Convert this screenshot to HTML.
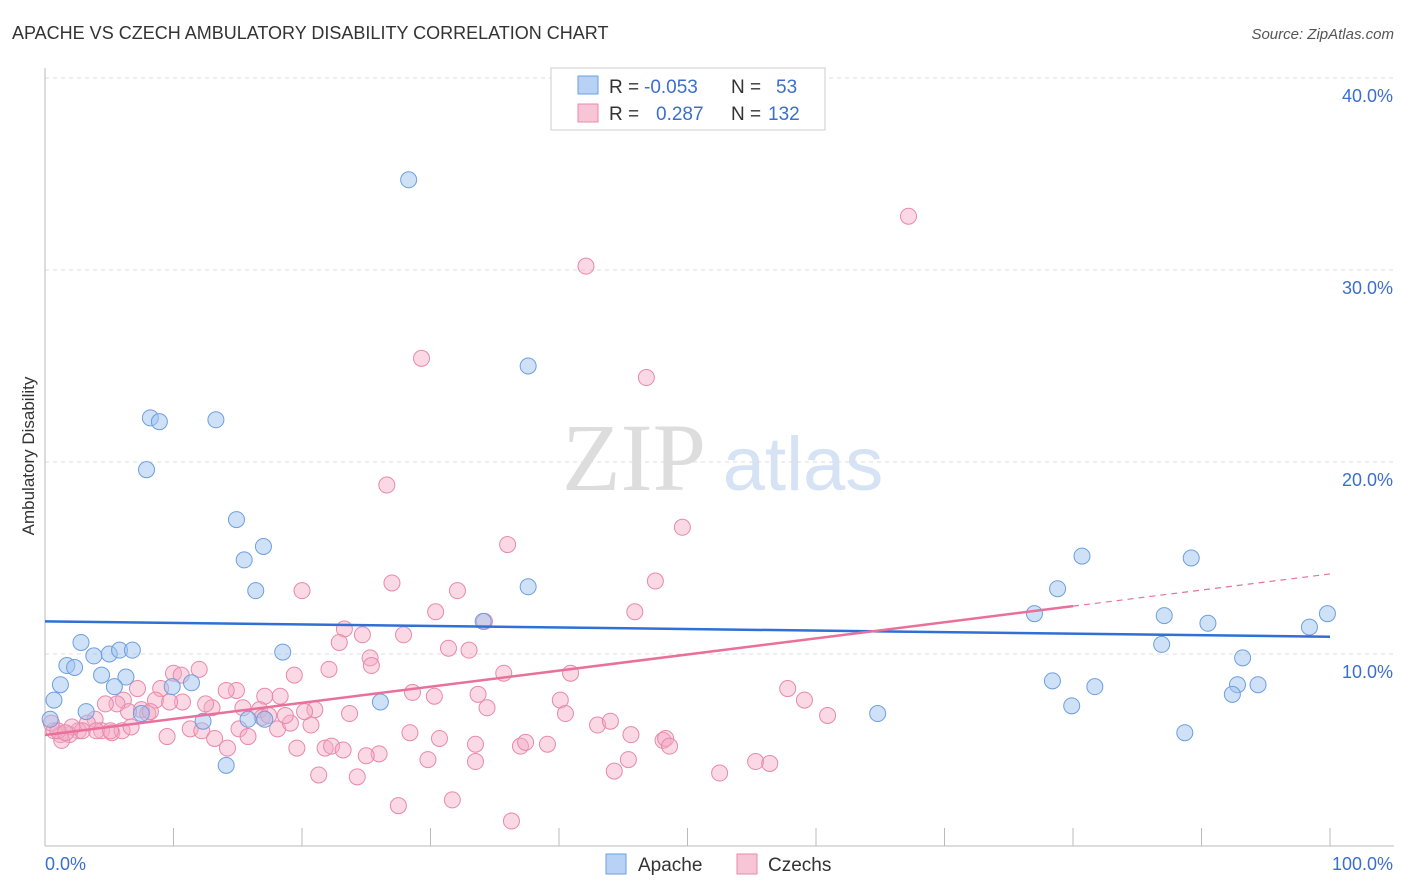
<!DOCTYPE html>
<html><head><meta charset="utf-8"><style>
body{margin:0;background:#fff;font-family:"Liberation Sans",sans-serif;}
svg{display:block}
</style></head><body>
<svg id="chart" width="1406" height="892">
<text x="12" y="39" font-size="18" fill="#333">APACHE VS CZECH AMBULATORY DISABILITY CORRELATION CHART</text>
<text x="1394" y="39" font-size="15" fill="#555" font-style="italic" text-anchor="end">Source: ZipAtlas.com</text>
<text x="34" y="456" font-size="17" fill="#333" text-anchor="middle" transform="rotate(-90 34 456)">Ambulatory Disability</text>
<g>
<text x="634" y="490" font-size="96" fill="#ddd" text-anchor="middle" font-family="Liberation Serif,serif">ZIP</text>
<text x="803" y="490" font-size="76" fill="#d5e3f5" text-anchor="middle">atlas</text>
</g>
<g id="grid"></g><g id="axes"></g><g id="pts"></g><g id="lines"></g>
<g>
<rect x="551" y="68" width="274" height="62" fill="#fff" stroke="#ccc"/>
<rect x="578" y="76" width="20" height="18" fill="#b7d2f4" stroke="#6d9fe0"/>
<rect x="578" y="104" width="20" height="18" fill="#f8c5d6" stroke="#e889a8"/>
<text y="93" font-size="19" fill="#333"><tspan x="609">R =</tspan><tspan x="644" fill="#3a6fd0">-0.053</tspan><tspan x="731">N =</tspan><tspan x="776" fill="#3a6fd0">53</tspan></text>
<text y="120" font-size="19" fill="#333"><tspan x="609">R =</tspan><tspan x="656" fill="#3a6fd0">0.287</tspan><tspan x="731">N =</tspan><tspan x="768" fill="#3a6fd0">132</tspan></text>
</g>
<g>
<rect x="606" y="854" width="20" height="20" fill="#b7d2f4" stroke="#6d9fe0"/>
<text x="638" y="871" font-size="19" fill="#333">Apache</text>
<rect x="737" y="854" width="20" height="20" fill="#f8c5d6" stroke="#e889a8"/>
<text x="768" y="871" font-size="19" fill="#333">Czechs</text>
</g>
</svg>
<script>
const yTicks=[10,20,30,40];
const yTickLabels=["10.0%","20.0%","30.0%","40.0%"];
const xTickLabels=["0.0%","100.0%"];
const apacheX=[28.3,37.6,8.2,8.9,13.3,7.9,14.9,17.0,15.5,16.4,37.6,34.1,2.8,5.0,3.8,5.8,6.8,1.7,2.3,18.5,1.2,4.4,6.3,5.4,9.9,11.4,0.7,3.2,7.5,12.3,15.8,17.1,26.1,14.1,64.8,80.7,78.8,77.0,87.1,89.2,90.5,86.9,93.2,78.4,81.7,79.9,92.8,94.4,92.4,88.7,99.8,98.4,0.4];
const apacheY=[34.7,25.0,22.3,22.1,22.2,19.6,17.0,15.6,14.9,13.3,13.5,11.7,10.6,10.0,9.9,10.2,10.2,9.4,9.3,10.1,8.4,8.9,8.8,8.3,8.3,8.5,7.6,7.0,6.9,6.5,6.6,6.6,7.5,4.2,6.9,15.1,13.4,12.1,12.0,15.0,11.6,10.5,9.8,8.6,8.3,7.3,8.4,8.4,7.9,5.9,12.1,11.4,6.6];
const czechX=[67.2,42.1,29.3,46.8,26.6,49.6,36.0,27.0,20.0,32.1,47.5,30.4,45.9,34.2,23.3,24.7,27.9,31.4,33.0,22.9,25.3,25.4,22.1,35.7,40.9,10.0,12.0,10.6,19.4,28.6,30.3,40.1,33.7,34.4,40.5,23.7,21.0,18.3,17.1,16.7,14.9,14.1,7.2,6.1,9.0,8.6,7.5,8.0,6.5,5.6,4.7,3.9,3.3,2.6,1.9,1.2,0.7,0.5,1.3,4.4,5.2,6.0,6.7,9.5,11.3,12.2,13.2,14.2,15.1,15.8,16.9,18.1,19.1,19.6,20.7,21.8,22.3,23.2,26.0,25.0,28.4,30.7,33.5,33.5,37.0,37.4,39.1,43.0,44.0,45.6,48.1,48.3,48.6,44.3,45.4,52.5,55.3,56.4,57.8,59.1,60.9,21.3,24.3,27.5,31.7,36.3,29.8,15.4,13.0,10.7,8.2,12.5,17.4,18.7,20.2,9.7,4.0,5.1,2.9,2.1,1.0,1.6];
const czechY=[32.8,30.2,25.4,24.4,18.8,16.6,15.7,13.7,13.3,13.3,13.8,12.2,12.2,11.7,11.3,11.0,11.0,10.3,10.2,10.6,9.8,9.4,9.2,9.0,9.0,9.0,9.2,8.9,8.9,8.0,7.8,7.6,7.9,7.2,6.9,6.9,7.1,7.8,7.8,7.1,8.1,8.1,8.2,7.6,8.2,7.6,7.1,6.9,7.0,7.4,7.4,6.6,6.4,6.0,5.8,5.8,6.0,6.4,5.5,6.0,5.9,6.0,6.2,5.7,6.1,6.0,5.6,5.1,6.1,5.7,6.7,6.1,6.4,5.1,6.3,5.1,5.2,5.0,4.8,4.7,5.9,5.6,5.3,4.4,5.2,5.4,5.3,6.3,6.5,5.8,5.5,5.6,5.2,3.9,4.5,3.8,4.4,4.3,8.2,7.6,6.8,3.7,3.6,2.1,2.4,1.3,4.5,7.2,7.2,7.5,7.0,7.4,6.8,6.8,7.0,7.5,6.0,6.0,6.0,6.2,6.0,5.9];
const apacheTrend=[11.7,10.9];
const czechTrend=[5.78,14.17];
const czechSolidEnd=80;
const NS="http://www.w3.org/2000/svg";
const X0=45,X1=1330,Y0=846,PXP=19.2;
const sx=v=>X0+v/100*(X1-X0), sy=v=>Y0-v*PXP;
function mk(t,a,p){const e=document.createElementNS(NS,t);for(const k in a)e.setAttribute(k,a[k]);p.appendChild(e);return e;}
const grid=document.getElementById('grid'),axes=document.getElementById('axes'),pts=document.getElementById('pts'),lines=document.getElementById('lines');
yTicks.forEach((t,i)=>{
 const g=mk('line',{x1:X0,x2:1394,y1:sy(t),y2:sy(t),stroke:'#ddd','stroke-dasharray':'4,4'},grid);
 
 
 const l=mk('text',{x:1393,y:sy(t)+24,'font-size':18,fill:'#3a6fd0','text-anchor':'end'},axes);
 l.textContent=yTickLabels[i];
 
 
});
const xa=mk('line',{x1:X0,x2:1394,y1:Y0,y2:Y0,stroke:'#bbb'},axes);


const ya=mk('line',{x1:X0,x2:X0,y1:68,y2:Y0,stroke:'#bbb'},axes);


for(let i=0;i<=10;i++){const t=mk('line',{x1:sx(i*10),x2:sx(i*10),y1:Y0-18,y2:Y0,stroke:'#bbb'},axes);
 
 }
const xl0=mk('text',{x:45,y:870,'font-size':18,fill:'#3a6fd0'},axes);xl0.textContent=xTickLabels[0];


const xl1=mk('text',{x:1393,y:870,'font-size':18,fill:'#3a6fd0','text-anchor':'end'},axes);xl1.textContent=xTickLabels[1];


czechX.forEach((x,i)=>{const c=mk('circle',{cx:sx(x),cy:sy(czechY[i]),r:8,fill:'rgba(245,170,198,0.45)',stroke:'#e889a8','stroke-width':1},pts);
 
 });
apacheX.forEach((x,i)=>{const c=mk('circle',{cx:sx(x),cy:sy(apacheY[i]),r:8,fill:'rgba(160,195,240,0.5)',stroke:'#6d9fe0','stroke-width':1},pts);
 
 });
const bl=mk('line',{x1:sx(0),x2:sx(100),y1:sy(apacheTrend[0]),y2:sy(apacheTrend[1]),stroke:'#2f6fd6','stroke-width':2.5},lines);


const cy=x=>czechTrend[0]+(czechTrend[1]-czechTrend[0])*x/100;
const pl=mk('line',{x1:sx(0),x2:sx(czechSolidEnd),y1:sy(cy(0)),y2:sy(cy(czechSolidEnd)),stroke:'#e8709a','stroke-width':2.5},lines);


const pd=mk('line',{x1:sx(czechSolidEnd),x2:sx(100),y1:sy(cy(czechSolidEnd)),y2:sy(cy(100)),stroke:'#e8709a','stroke-width':1.2,'stroke-dasharray':'6,5'},lines);


</script>
</body></html>
